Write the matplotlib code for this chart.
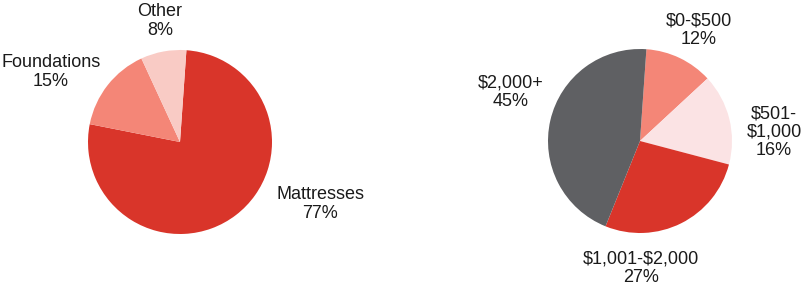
import matplotlib.pyplot as plt

plt.rcParams['font.family'] = ['Liberation Sans', 'DejaVu Sans']
plt.rcParams['text.parse_math'] = False

# left pie: product mix
product_labels = ['Mattresses', 'Foundations', 'Other']
product_shares = [77, 15, 8]
product_colors = ['#d9352a', '#f48677', '#f9cbc5']

# right pie: price bands
price_labels = ['$0-$500', '$501-\n$1,000', '$1,001-$2,000', '$2,000+']
price_shares = [12, 16, 27, 45]
price_colors = ['#f48677', '#fbe3e4', '#d9352a', '#5f6063']

W, H = 802, 294
fig = plt.figure(figsize=(W / 100, H / 100), dpi=100)
ax = fig.add_axes([0, 0, 1, 1])

# pie centres/radius in pixel coordinates (y measured from bottom)
r = 92
ax.pie(product_shares, colors=product_colors, startangle=86, counterclock=False,
       center=(180, H - 142), radius=r, wedgeprops=dict(linewidth=0))
ax.pie(price_shares, colors=price_colors, startangle=86, counterclock=False,
       center=(640, H - 141), radius=r, wedgeprops=dict(linewidth=0))
ax.set_xlim(0, W)
ax.set_ylim(0, H)
ax.set_aspect('equal')
ax.axis('off')

# label anchor points (pixel positions from top-left)
product_pos = [(320, 204), (51, 72), (160, 21)]
price_pos = [(699, 30), (774, 132), (641, 268), (511, 92)]

for lab, v, (x, y) in zip(product_labels, product_shares, product_pos):
    ax.text(x, H - y, f'{lab}\n{v}%', ha='center', va='center',
            fontsize=13, color='#1a1a1a', linespacing=1.1)
for lab, v, (x, y) in zip(price_labels, price_shares, price_pos):
    ax.text(x, H - y, f'{lab}\n{v}%', ha='center', va='center',
            fontsize=13, color='#1a1a1a', linespacing=1.1)

fig.savefig('out.png', dpi=100)
